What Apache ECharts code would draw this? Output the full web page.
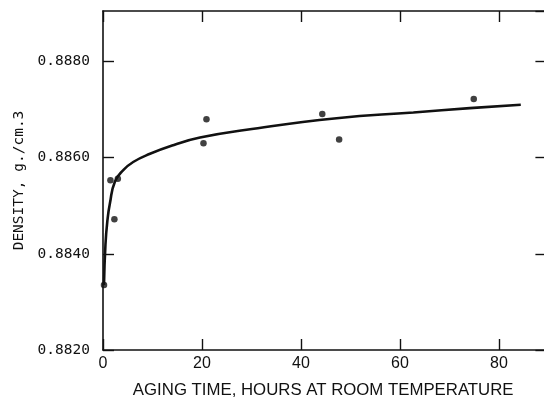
<!DOCTYPE html>
<html>
<head>
<meta charset="utf-8">
<script src="https://cdn.jsdelivr.net/npm/echarts@6/dist/echarts.min.js"></script>
<style>
html,body{margin:0;padding:0;background:#fff;}
#chart{width:544px;height:398px;}
</style>
</head>
<body>
<div id="chart"></div>
<script>
// Measured density points: aging time (hours), density (g/cm^3)
var pointHours   = [0.2, 1.5, 3.0, 2.3, 20.3, 20.9, 44.3, 47.7, 74.9];
var pointDensity = [0.88335, 0.88553, 0.88556, 0.88472, 0.88630, 0.88680, 0.88691, 0.88638, 0.88722];

// Fitted curve drawn through the data
var curveHours   = [0.2, 0.5, 0.9, 1.4, 2.4, 4.1, 6.1, 9.5, 14.2, 19.6, 29.0, 47.2, 62.7, 74.1, 84.4];
var curveDensity = [0.88335, 0.88420, 0.88470, 0.88505, 0.88550, 0.88574, 0.88591, 0.88608, 0.88626, 0.88642, 0.88658, 0.88682, 0.88694, 0.88703, 0.88710];

// Axis ticks
var xTicks = [0, 20, 40, 60, 80];
var yTicks = [0.8820, 0.8840, 0.8860, 0.8880];

var xTitle = 'AGING TIME, HOURS AT ROOM TEMPERATURE';
var yTitle = 'DENSITY, g./cm.3';

function zip(a, b) { return a.map(function (v, i) { return [v, b[i]]; }); }

var ink = '#111';
var chart = echarts.init(document.getElementById('chart'), null, {renderer: 'canvas'});

var xStep = xTicks[1] - xTicks[0];
var yStep = yTicks[1] - yTicks[0];

var commonX = {
  type: 'value', min: xTicks[0], max: 92, interval: xStep,
  axisLine: {show: true, onZero: false, lineStyle: {color: ink, width: 1.6}},
  axisTick: {show: true, inside: true, length: 11, lineStyle: {color: ink, width: 1.4}},
  splitLine: {show: false}
};
var commonY = {
  type: 'value', min: yTicks[0], max: 0.88905, interval: yStep,
  axisLine: {show: true, onZero: false, lineStyle: {color: ink, width: 1.6}},
  axisTick: {show: true, inside: true, length: 11, lineStyle: {color: ink, width: 1.4}},
  splitLine: {show: false}
};

chart.setOption({
  animation: false,
  backgroundColor: '#fff',
  grid: {left: 103, width: 455.4, top: 11, height: 339, containLabel: false, outerBoundsMode: 'none'},
  xAxis: [
    Object.assign({}, commonX, {
      position: 'bottom',
      name: xTitle, nameLocation: 'middle', nameGap: 32,
      nameTextStyle: {color: ink, fontFamily: 'Liberation Sans', fontSize: 16.8, padding: [0, 15, 0, 0]},
      axisLabel: {show: true, margin: 6, color: ink, fontFamily: 'Liberation Sans', fontSize: 16,
        showMaxLabel: false,
        formatter: function (v) { return xTicks.indexOf(v) >= 0 ? String(v) : ''; }}
    }),
    Object.assign({}, commonX, {position: 'top', axisLabel: {show: false}})
  ],
  yAxis: [
    Object.assign({}, commonY, {
      position: 'left',
      name: yTitle, nameLocation: 'middle', nameGap: 76, nameRotate: 90,
      nameTextStyle: {color: ink, fontFamily: 'DejaVu Sans Mono', fontSize: 14.5},
      axisLabel: {show: true, margin: 13, color: ink, fontFamily: 'DejaVu Sans Mono', fontSize: 14.5,
        showMaxLabel: false,
        formatter: function (v) { return v.toFixed(4); }}
    }),
    Object.assign({}, commonY, {position: 'right', axisLabel: {show: false},
      axisTick: {show: true, inside: true, length: 23, lineStyle: {color: ink, width: 1.4}}})
  ],
  series: [
    {
      type: 'line', xAxisIndex: 0, yAxisIndex: 0,
      data: zip(curveHours, curveDensity),
      smooth: 0.5,
      showSymbol: false, symbol: 'none',
      lineStyle: {color: ink, width: 2.6},
      z: 3
    },
    {
      type: 'scatter', xAxisIndex: 0, yAxisIndex: 0,
      data: zip(pointHours, pointDensity),
      symbol: 'circle', symbolSize: 6.5,
      itemStyle: {color: ink},
      z: 4
    }
  ]
});
</script>
</body>
</html>
